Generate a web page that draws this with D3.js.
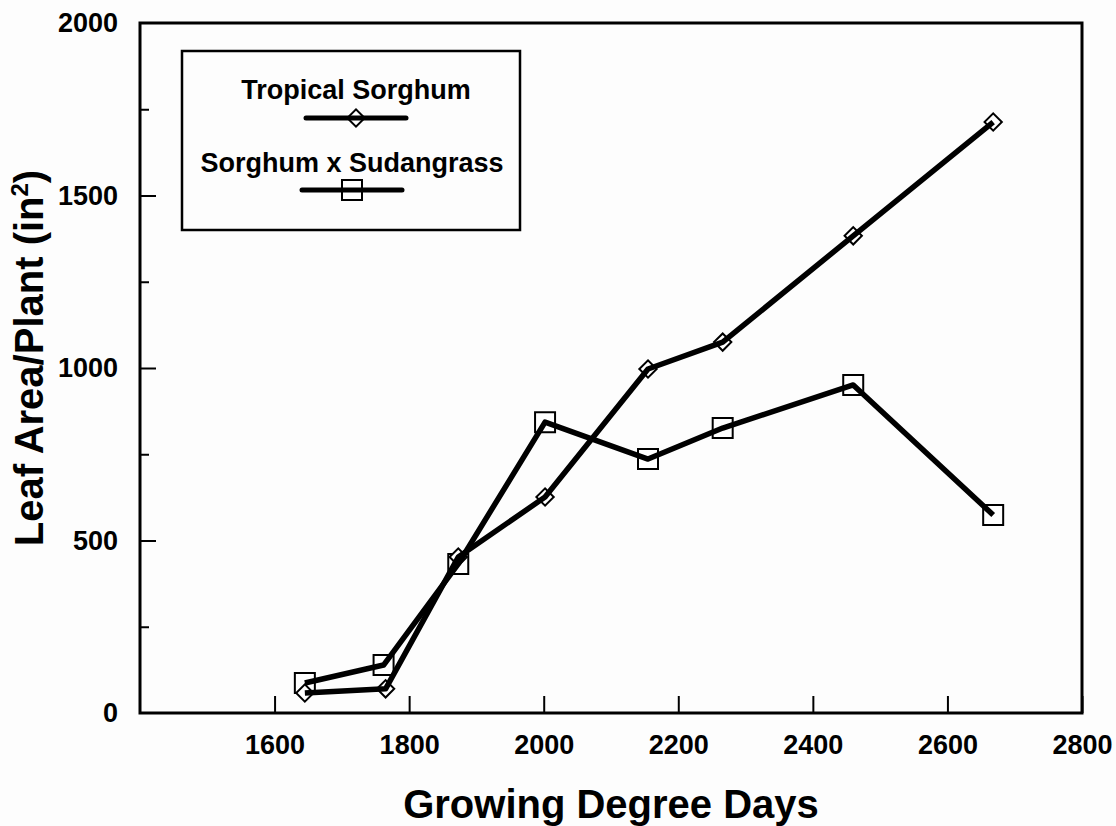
<!DOCTYPE html>
<html>
<head>
<meta charset="utf-8">
<script src="https://cdn.jsdelivr.net/npm/d3@7"></script>
<style>
  body { margin: 0; background: #fdfdfd; }
  svg { font-family: "Liberation Sans", Arial, sans-serif; font-weight: bold; }
</style>
</head>
<body>
<div id="chart"></div>
<script>
/************************************************************
 * DATA
 ************************************************************/
var seriesNames = ["Tropical Sorghum", "Sorghum x Sudangrass"];
var tropicalGDD = [1645, 1765, 1873, 2002, 2155, 2266, 2460, 2668];
var tropicalArea = [58, 70, 452, 626, 997, 1075, 1383, 1713];
var sudanGDD = [1645, 1762, 1873, 2002, 2155, 2266, 2460, 2668];
var sudanArea = [87, 139, 432, 843, 736, 826, 951, 574];
var xTicks = [1600, 1800, 2000, 2200, 2400, 2600, 2800];
var yTicks = [0, 500, 1000, 1500, 2000];
var yMinorTicks = [250, 750, 1250, 1750];

/************************************************************
 * LAYOUT
 ************************************************************/
var width = 1116, height = 826;
var plot = {left: 140, right: 1082, top: 23, bottom: 713};

var svg = d3.select("#chart").append("svg")
    .attr("width", width)
    .attr("height", height);

var x = d3.scaleLinear().domain([1400, 2800]).range([plot.left, plot.right]);
var y = d3.scaleLinear().domain([0, 2000]).range([plot.bottom, plot.top]);

// frame round the plot
svg.append("rect")
    .attr("x", plot.left).attr("y", plot.top)
    .attr("width", plot.right - plot.left)
    .attr("height", plot.bottom - plot.top)
    .attr("fill", "none").attr("stroke", "#000").attr("stroke-width", 3);

// x axis: ticks point up into the plot
var xAxis = d3.axisBottom(x).tickValues(xTicks).tickFormat(d3.format("d"))
    .tickSizeInner(-17).tickSizeOuter(0).tickPadding(22);
var gx = svg.append("g").attr("transform", "translate(0," + plot.bottom + ")").call(xAxis)
    .attr("font-size", 27).attr("font-family", "Liberation Sans");
gx.select(".domain").remove();
gx.selectAll(".tick line").attr("stroke-width", 2);
gx.selectAll(".tick text").attr("font-weight", "bold").attr("fill", "#000");

// y axis: major + minor ticks pointing right
var yAxis = d3.axisLeft(y).tickValues(yTicks).tickFormat(d3.format("d"))
    .tickSizeInner(-16).tickSizeOuter(0).tickPadding(22);
var gy = svg.append("g").attr("transform", "translate(" + plot.left + ",0)").call(yAxis)
    .attr("font-size", 27).attr("font-family", "Liberation Sans");
gy.select(".domain").remove();
gy.selectAll(".tick line").attr("stroke-width", 2);
gy.selectAll(".tick text").attr("font-weight", "bold").attr("fill", "#000");
gy.selectAll(".tick").filter(function(d) { return d === 0 || d === 2000; }).select("line").remove();

var yMinor = d3.axisLeft(y).tickValues(yMinorTicks).tickSizeInner(-9).tickSizeOuter(0).tickFormat("");
var gy2 = svg.append("g").attr("transform", "translate(" + plot.left + ",0)").call(yMinor);
gy2.select(".domain").remove();
gy2.selectAll(".tick line").attr("stroke-width", 2);

// axis titles
svg.append("text")
    .attr("x", (x(1400) + x(2800)) / 2)
    .attr("y", 818)
    .attr("text-anchor", "middle")
    .attr("font-size", 40)
    .text("Growing Degree Days");

svg.append("text")
    .attr("transform", "translate(43,358) rotate(-90)")
    .attr("text-anchor", "middle")
    .attr("font-size", 40)
    .text("Leaf Area/Plant (in")
    .append("tspan").attr("font-size", 24).attr("dy", -15).text("2")
    .clone(true).attr("font-size", 40).attr("dy", 15).text(")");

/************************************************************
 * SERIES
 ************************************************************/
var line = d3.line().x(function(d) { return x(d[0]); }).y(function(d) { return y(d[1]); });
var tropical = d3.zip(tropicalGDD, tropicalArea);
var sudan = d3.zip(sudanGDD, sudanArea);

var diamond = d3.symbol().type(d3.symbolSquare).size(150);
var square = d3.symbol().type(d3.symbolSquare).size(400);

function drawMarkers(data, sym, rot) {
    svg.append("g").selectAll("path").data(data).enter()
        .append("path")
        .attr("d", sym)
        .attr("transform", function(d) { return "translate(" + [x(d[0]), y(d[1])] + ") rotate(" + rot + ")"; })
        .attr("fill", "#fff")
        .attr("stroke", "#000")
        .attr("stroke-width", 2);
}

drawMarkers(sudan, square, 0);
drawMarkers(tropical, diamond, 45);

[tropical, sudan].forEach(function(data) {
    svg.append("path")
        .datum(data)
        .attr("d", line)
        .attr("fill", "none")
        .attr("stroke", "#000")
        .attr("stroke-width", 5.5)
        .attr("stroke-linejoin", "round");
});

/************************************************************
 * LEGEND
 ************************************************************/
var legend = svg.append("g");
legend.append("rect")
    .attr("x", 182).attr("y", 51).attr("width", 338).attr("height", 179)
    .attr("fill", "none").attr("stroke", "#000").attr("stroke-width", 2.5);

var legendRows = [
    {name: seriesNames[0], cx: 356, ty: 99, ly: 118, sym: diamond, rot: 45},
    {name: seriesNames[1], cx: 352, ty: 172, ly: 190, sym: square, rot: 0}
];
legendRows.forEach(function(r) {
    legend.append("text")
        .attr("x", r.cx).attr("y", r.ty)
        .attr("text-anchor", "middle")
        .attr("font-size", 27)
        .text(r.name);
    legend.append("path")
        .attr("d", r.sym)
        .attr("transform", "translate(" + [r.cx, r.ly] + ") rotate(" + r.rot + ")")
        .attr("fill", "#fff").attr("stroke", "#000").attr("stroke-width", 2);
    legend.append("line")
        .attr("x1", r.cx - 50).attr("x2", r.cx + 50)
        .attr("y1", r.ly).attr("y2", r.ly)
        .attr("stroke", "#000").attr("stroke-width", 5).attr("stroke-linecap", "round");
});
</script>
</body>
</html>
